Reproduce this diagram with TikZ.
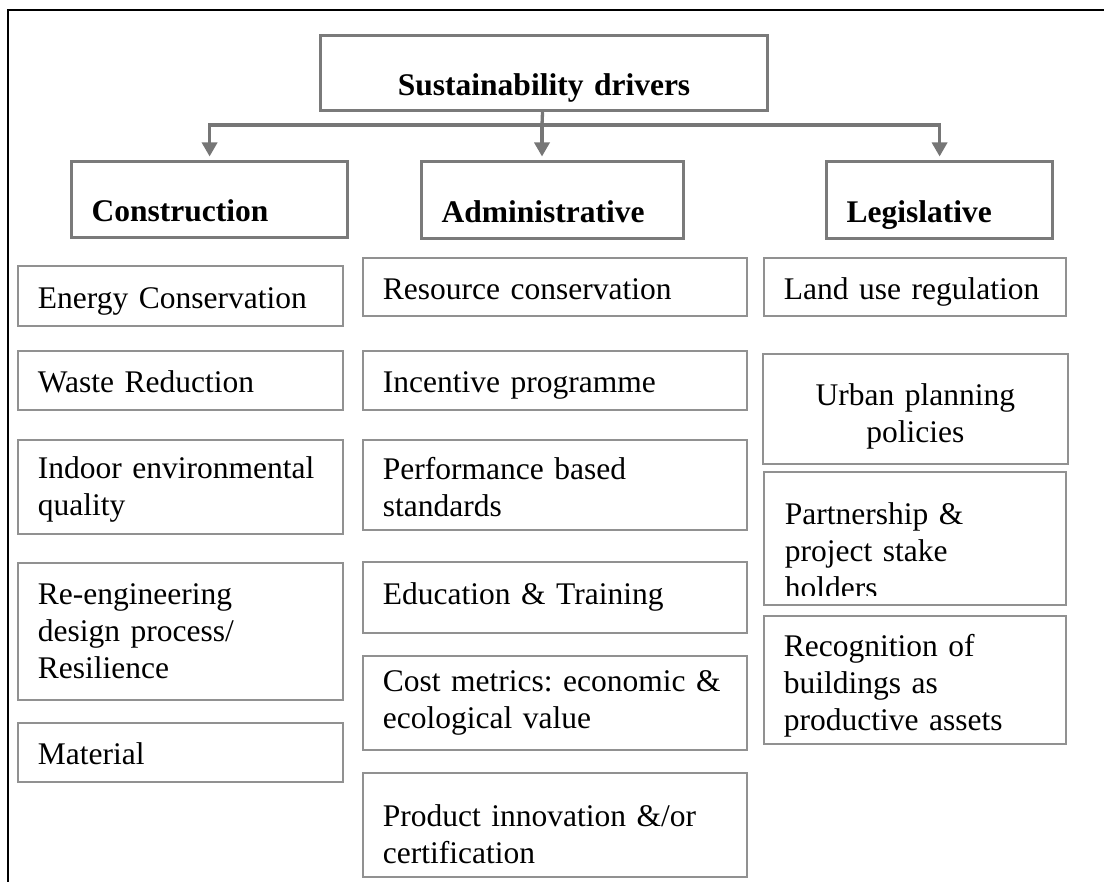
\documentclass[tikz,border=0pt]{standalone}
\usepackage{fontspec}
\setmainfont{Liberation Serif}
\usetikzlibrary{arrows.meta}
\definecolor{headgray}{RGB}{122,122,122}
\definecolor{itemgray}{RGB}{145,145,145}
\definecolor{linkgray}{RGB}{118,118,118}
\newcommand{\itemfont}{\fontsize{31.5pt}{37pt}\selectfont\frenchspacing}
\newcommand{\pad}[1]{\rule{0pt}{#1}}

\begin{document}
\begin{tikzpicture}[x=1pt, y=-1pt,
    headbox/.style={draw=headgray, line width=3.2pt, fill=white, anchor=north west, align=left,
      inner xsep=20pt, inner ysep=0pt, font=\itemfont\bfseries, text height=44pt, text depth=0pt},
    itembox/.style={draw=itemgray, line width=1.8pt, fill=white, anchor=north west, align=left,
      inner xsep=20pt, inner ysep=0pt, font=\itemfont},
    oneline/.style={text height=25pt, text depth=0pt},
    link/.style={draw=linkgray, line width=3.3pt},
    feed/.style={link, -{Triangle[width=15pt,length=14pt]}, shorten >=3.5pt}]
  \useasboundingbox (0,0) rectangle (1104,882);
  \draw[line width=2.6pt] (8,882) -- (8,10) -- (1104,10);

  \node[headbox, align=center, text width=407pt, minimum height=75pt] (title) at (319,34) {Sustainability drivers};
  \node[headbox, text width=236pt, minimum height=76pt] (construction) at (70,160) {Construction};
  \node[headbox, text width=222pt, minimum height=77pt] (admin) at (420,160) {Administrative};
  \node[headbox, text width=186pt, minimum height=77pt] (legis) at (825,160) {Legislative};

  \node[itembox, oneline, text width=285pt, minimum height=60pt] (energy) at (17,265) {Energy Conservation};
  \node[itembox, oneline, text width=285pt, minimum height=59pt] (waste) at (17,350) {Waste Reduction};
  \node[itembox, text width=285pt, minimum height=94pt] (indoor) at (17,439) {\pad{28pt}Indoor environmental\\quality};
  \node[itembox, text width=285pt, minimum height=137pt] (reeng) at (17,562) {Re-engineering\\design process/\\Resilience};
  \node[itembox, oneline, text width=285pt, minimum height=59pt] (material) at (17,722) {Material};

  \node[itembox, oneline, text width=344pt, minimum height=58pt] (resource) at (362,257) {Resource conservation};
  \node[itembox, oneline, text width=344pt, minimum height=59pt] (incentive) at (362,350) {Incentive programme};
  \node[itembox, text width=344pt, minimum height=90pt] (performance) at (362,439) {\pad{26pt}Performance based\\standards};
  \node[itembox, oneline, text height=15pt, text width=344pt, minimum height=71pt] (education) at (362,561) {Education \& Training};
  \node[itembox, text width=344pt, minimum height=94pt] (cost) at (362,655) {Cost metrics: economic \&\\ecological value};
  \node[itembox, text width=344pt, minimum height=104pt] (product) at (362,772) {\pad{41pt}Product innovation \&/or\\certification};

  \node[itembox, oneline, text width=262pt, minimum height=58pt] (land) at (763,257) {Land use regulation};
  \node[itembox, align=center, text width=265pt, minimum height=110pt] (urban) at (762,353) {\pad{37.5pt}Urban planning\\policies};
  \node[itembox, text width=262pt, minimum height=133pt, path picture={
      \clip ([yshift=9pt]path picture bounding box.south west) rectangle (path picture bounding box.north east);
      \node[font=\itemfont, align=left, anchor=north west, inner sep=0pt] (partnertext)
        at ([xshift=20pt,yshift=-11pt]path picture bounding box.north west) {Partnership \&\\project stake\\holders};
    }] (partner) at (763,471) {};
  \node[itembox, text width=262pt, minimum height=128pt] (recognition) at (763,615) {\pad{34pt}Recognition of\\buildings as\\productive assets};

  \coordinate (hub) at (542,125);
  \begin{scope}
    \draw[link] (title) -- (hub);
    \draw[feed] (hub) -| (construction.north);
    \draw[feed] (hub) -- (hub |- admin.north);
    \draw[feed] (hub) -| (legis.north);
  \end{scope}
\end{tikzpicture}
\end{document}
